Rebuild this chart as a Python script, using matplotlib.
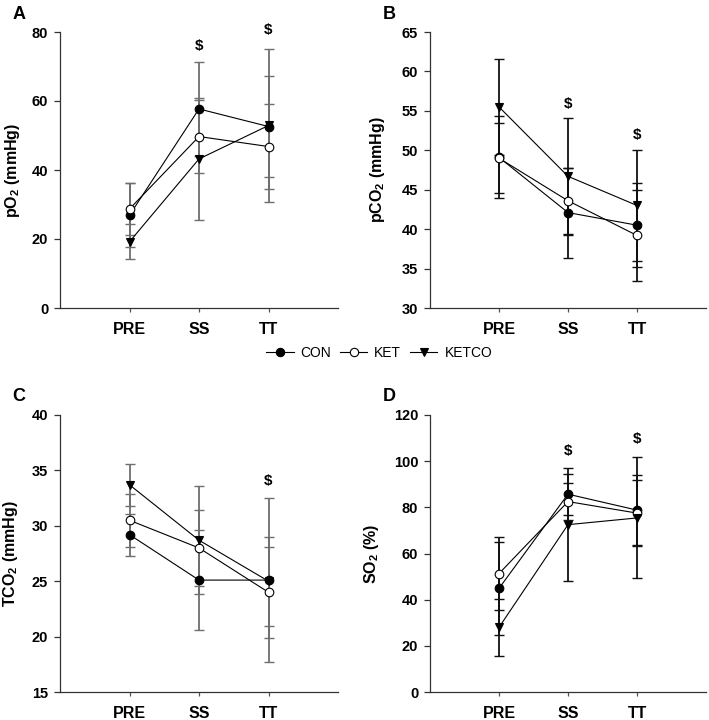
import numpy as np
import matplotlib
matplotlib.use("Agg")
import matplotlib.pyplot as plt
from matplotlib.lines import Line2D

plt.rcParams["font.family"] = ["Liberation Sans", "DejaVu Sans"]
plt.rcParams["mathtext.fontset"] = "custom"
plt.rcParams["mathtext.rm"] = "Liberation Sans:bold"
plt.rcParams["mathtext.bf"] = "Liberation Sans:bold"

timepoints = ["PRE", "SS", "TT"]
groups = ["CON", "KET", "KETCO"]

# pO2 (mmHg)
po2_mean = {"CON": [26.9, 57.7, 52.6], "KET": [28.7, 49.7, 46.8], "KETCO": [19.2, 43.2, 52.9]}
po2_sd = {"CON": [9.2, 13.6, 14.7], "KET": [7.6, 10.7, 12.2], "KETCO": [5.1, 17.8, 22.3]}
po2_sig = [None, 76.0, 80.5]

# pCO2 (mmHg)
pco2_mean = {"CON": [49.1, 42.1, 40.5], "KET": [49.0, 43.6, 39.2], "KETCO": [55.5, 46.7, 43.0]}
pco2_sd = {"CON": [5.2, 5.7, 5.3], "KET": [4.4, 4.2, 5.8], "KETCO": [6.1, 7.4, 7.0]}
pco2_sig = [None, 55.9, 51.9]

# TCO2 (mmHg)
tco2_mean = {"CON": [29.2, 25.1, 25.1], "KET": [30.5, 28.0, 24.0], "KETCO": [33.7, 28.7, 25.0]}
tco2_sd = {"CON": [1.9, 4.5, 7.4], "KET": [2.4, 3.4, 4.1], "KETCO": [1.9, 4.9, 4.0]}
tco2_sig = [None, None, 34.0]

# SO2 (%)
so2_mean = {"CON": [44.9, 85.7, 78.8], "KET": [51.3, 82.5, 77.5], "KETCO": [28.0, 72.5, 75.4]}
so2_sd = {"CON": [20.2, 8.9, 15.3], "KET": [15.7, 8.1, 14.4], "KETCO": [12.5, 24.5, 26.2]}
so2_sig = [None, 104.3, 109.7]

styles = {
    "CON": dict(marker="o", mfc="black", mec="black"),
    "KET": dict(marker="o", mfc="white", mec="black"),
    "KETCO": dict(marker="v", mfc="black", mec="black"),
}

fig = plt.figure(figsize=(7.09, 7.2), dpi=100)
W, H = 709, 720


def px_axes(left, right, top, bottom):
    return fig.add_axes([left / W, 1 - bottom / H, (right - left) / W, (bottom - top) / H])


def panel(ax, means, sds, sig, ylim, yticks, ylabel, letter, ecolor, labx):
    x = np.arange(1, len(timepoints) + 1)
    for g in groups:
        ax.errorbar(x, means[g], yerr=sds[g], fmt="none", ecolor=ecolor,
                    elinewidth=1.3, capsize=3.8, capthick=1.0, zorder=2)
    for g in groups:
        ax.plot(x, means[g], color="black", lw=0.8, ms=6.2, mew=0.8, zorder=3, **styles[g])
    for xi, s in zip(x, sig):
        if s is not None:
            ax.text(xi, s, "$", ha="center", va="center", fontsize=11, fontweight="bold")
    ax.set_xlim(0, 4)
    ax.set_ylim(*ylim)
    ax.set_yticks(yticks)
    ax.set_xticks(x)
    ax.set_xticklabels(timepoints, fontsize=11.5, fontweight="bold")
    for lab in ax.get_yticklabels():
        lab.set_fontweight("bold")
        lab.set_fontsize(10.5)
    ax.spines["top"].set_visible(False)
    ax.spines["right"].set_visible(False)
    for s in ["left", "bottom"]:
        ax.spines[s].set_color("#333333")
        ax.spines[s].set_linewidth(0.9)
    ax.tick_params(axis="y", length=4.5, width=0.9, color="#333333", pad=4)
    ax.tick_params(axis="x", length=3, width=0.9, color="#555555", pad=7)
    ax.set_ylabel(ylabel, fontsize=11.5, fontweight="bold")
    ax.yaxis.set_label_coords(labx, 0.5)
    ax.text(-0.17, 1.065, letter, transform=ax.transAxes,
            fontsize=13, fontweight="bold", ha="left", va="center")


axA = px_axes(60, 338, 32, 308)
axB = px_axes(430, 706, 32, 308)
axC = px_axes(60, 338, 415, 692)
axD = px_axes(430, 706, 415, 692)

panel(axA, po2_mean, po2_sd, po2_sig, (0, 80), [0, 20, 40, 60, 80],
      "pO$_2$ (mmHg)", "A", "#6e6e6e", -0.137)
panel(axB, pco2_mean, pco2_sd, pco2_sig, (30, 65), [30, 35, 40, 45, 50, 55, 60, 65],
      "pCO$_2$ (mmHg)", "B", "#111111", -0.156)
panel(axC, tco2_mean, tco2_sd, tco2_sig, (15, 40), [15, 20, 25, 30, 35, 40],
      "TCO$_2$ (mmHg)", "C", "#6e6e6e", -0.144)
panel(axD, so2_mean, so2_sd, so2_sig, (0, 120), [0, 20, 40, 60, 80, 100, 120],
      "SO$_2$ (%)", "D", "#111111", -0.178)

handles = [Line2D([], [], color="black", lw=0.8, ms=6, mew=0.8, **styles[g]) for g in groups]
fig.legend(handles, groups, loc="center", bbox_to_anchor=(379 / W, 1 - 353 / H), ncol=3,
           frameon=False, fontsize=10, handlelength=2.0, handletextpad=0.5,
           columnspacing=0.6)

fig.savefig("out.png", dpi=100)
